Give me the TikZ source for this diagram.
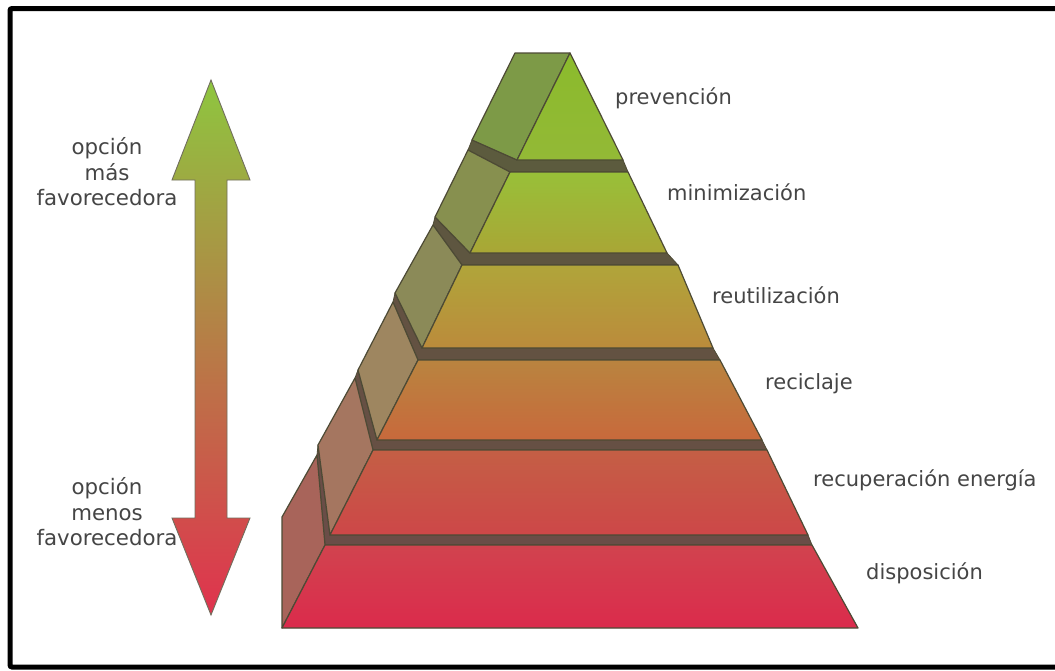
\documentclass[tikz,border=0pt]{standalone}
\usepackage{fontspec}
\setmainfont{DejaVu Sans}
\definecolor{edgecol}{HTML}{4D4A35}
\definecolor{labelgray}{HTML}{454545}
\definecolor{arrowtop}{HTML}{8EC63F}
\definecolor{arrowmid}{HTML}{B68A3A}
\definecolor{arrowbot}{HTML}{E0324E}
\definecolor{ledA}{HTML}{5C5B3E}
\definecolor{ledB}{HTML}{5E5640}
\definecolor{ledC}{HTML}{635242}
\definecolor{ledD}{HTML}{665044}
\definecolor{ledE}{HTML}{6A4D47}
\definecolor{sideA}{HTML}{7D9A47}
\definecolor{sideB}{HTML}{87904F}
\definecolor{sideC}{HTML}{8B8A58}
\definecolor{sideD}{HTML}{9E8660}
\definecolor{sideE}{HTML}{A57660}
\definecolor{sideF}{HTML}{A8645A}
\definecolor{fAt}{HTML}{8BBB2C}\definecolor{fAb}{HTML}{93B936}
\definecolor{fBt}{HTML}{98C038}\definecolor{fBb}{HTML}{A9A636}
\definecolor{fCt}{HTML}{B0A53A}\definecolor{fCb}{HTML}{BB8B3B}
\definecolor{fDt}{HTML}{B9843F}\definecolor{fDb}{HTML}{C8693C}
\definecolor{fEt}{HTML}{C45F45}\definecolor{fEb}{HTML}{CD4748}
\definecolor{fFt}{HTML}{D1434E}\definecolor{fFb}{HTML}{DB2B4C}
\tikzset{
  ledge/.style={fill=#1, draw=edgecol, line width=0.8pt, line join=round},
  sideface/.style={fill=#1, draw=edgecol, line width=1.2pt, line join=round},
  frontface/.style={draw=edgecol, line width=1.2pt, line join=round},
  lbl/.style={text=labelgray, font=\fontsize{21}{25}\selectfont, inner sep=0pt, anchor=west},
  sidelbl/.style={text=labelgray, font=\fontsize{21.3}{25.5}\selectfont, inner sep=0pt, align=center},
}
\begin{document}
\begin{tikzpicture}[x=1pt,y=-1pt]
\useasboundingbox (0,0) rectangle (1055,670);
\fill[white] (0,0) rectangle (1055,670);
% frame
\draw[line width=5pt, rounded corners=2pt] (1062,8.5) -- (10,8.5) -- (10,667) -- (1062,667);

% double arrow
\draw[draw=edgecol!80, line width=0.9pt, top color=arrowtop, middle color=arrowmid, bottom color=arrowbot]
  (211,80) -- (250,180) -- (227,180) -- (227,518) -- (250,518) -- (211,615)
  -- (172,518) -- (195,518) -- (195,180) -- (172,180) -- cycle;

\node[sidelbl] (mas) at (107,172) {opción\\más\\favorecedora};
\node[sidelbl] (menos) at (107,512) {opción\\menos\\favorecedora};

% ledges
\draw[ledge=ledA] (472,140) -- (517,160) -- (623,160) -- (628,172) -- (510,172) -- (468,150) -- cycle;
\draw[ledge=ledB] (435,217) -- (470,253) -- (667,253) -- (678,265) -- (462,265) -- (433,225) -- cycle;
\draw[ledge=ledC] (395,293) -- (422,348) -- (713,348) -- (720,360) -- (418,360) -- (393,302) -- cycle;
\draw[ledge=ledD] (358,370) -- (377,440) -- (762,440) -- (767,450) -- (373,450) -- (355,378) -- cycle;
\draw[ledge=ledE] (318,445) -- (330,535) -- (808,535) -- (812,545) -- (325,545) -- (317,455) -- cycle;

% side faces
\draw[sideface=sideA] (515,53) -- (570,53) -- (517,160) -- (472,140) -- cycle;
\draw[sideface=sideB] (468,150) -- (510,172) -- (470,253) -- (435,217) -- cycle;
\draw[sideface=sideC] (433,225) -- (462,265) -- (422,348) -- (395,293) -- cycle;
\draw[sideface=sideD] (393,302) -- (418,360) -- (377,440) -- (358,370) -- cycle;
\draw[sideface=sideE] (355,378) -- (373,450) -- (330,535) -- (318,445) -- cycle;
\draw[sideface=sideF] (317,455) -- (325,545) -- (282,628) -- (282,517) -- cycle;

% front faces
\draw[frontface, top color=fAt, bottom color=fAb] (570,53) -- (623,160) -- (517,160) -- cycle;
\draw[frontface, top color=fBt, bottom color=fBb] (510,172) -- (628,172) -- (667,253) -- (470,253) -- cycle;
\draw[frontface, top color=fCt, bottom color=fCb] (462,265) -- (678,265) -- (713,348) -- (422,348) -- cycle;
\draw[frontface, top color=fDt, bottom color=fDb] (418,360) -- (720,360) -- (762,440) -- (377,440) -- cycle;
\draw[frontface, top color=fEt, bottom color=fEb] (373,450) -- (767,450) -- (808,535) -- (330,535) -- cycle;
\draw[frontface, top color=fFt, bottom color=fFb] (325,545) -- (812,545) -- (858,628) -- (282,628) -- cycle;

% labels
\node[lbl] (l1) at (615,98) {prevención};
\node[lbl] (l2) at (667,192) {minimización};
\node[lbl] (l3) at (712,295) {reutilización};
\node[lbl] (l4) at (765,384) {reciclaje};
\node[lbl] (l5) at (813,480) {recuperación energía};
\node[lbl] (l6) at (866,573) {disposición};
\end{tikzpicture}
\end{document}
